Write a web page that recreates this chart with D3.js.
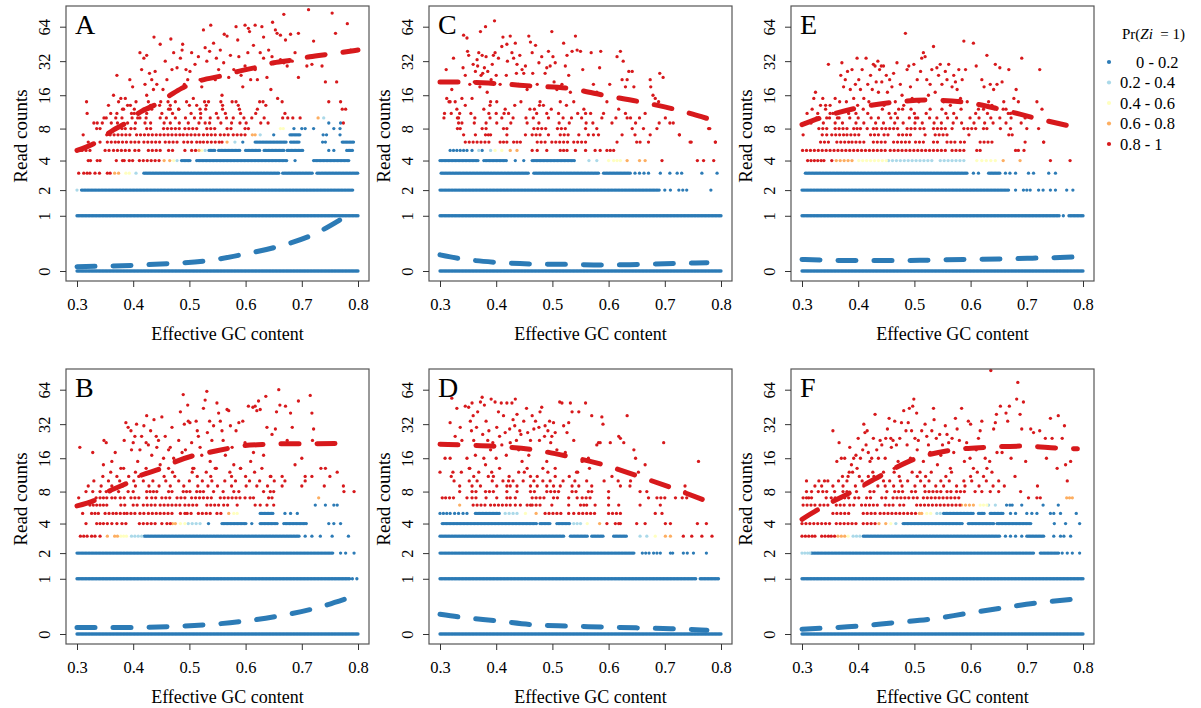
<!DOCTYPE html>
<html><head><meta charset="utf-8">
<script src="https://cdn.jsdelivr.net/npm/d3@7"></script>
<style>
body{margin:0;background:#fff;}
svg{display:block;font-family:"Liberation Serif","Times New Roman",serif;}
</style></head><body>
<svg id="chart" width="1201" height="708"></svg>
<script>
// ---------------- data ----------------
const panelNames = ["A","B","C","D","E","F"];
const countTicks = [0,1,2,4,8,16,32,64];
const gcTicks = [0.3,0.4,0.5,0.6,0.7,0.8];
const probClasses = ["0 - 0.2","0.2 - 0.4","0.4 - 0.6","0.6 - 0.8","0.8 - 1"];
const classKeys = ["b","l","y","o","r"];

// rows: "count: class x x a-b (dense run) a~b (spaced run)"; x in thousandths of GC content
const rowsA = [
"0: b 300-800","1: b 300-800","2: l 300 b 308-792",
"3: r 303 312 318 323 332 340 354 359 o 367 374 y 387 393 l 405 b 419-660 666-720 727-800",
"4: r 320 324 336 341 370 381 384 393 399 411~448 o 455 465 y 472 l 478 b 486-501 513-675 688 721-785",
"5: r 300 305 309 316 323 350~359 365~394 403~412 427~448 463~475 492 504~513 o 517 y 522 l 528 b 535-545 552-590 600-627 633-668 674-703 748 757 780-790",
"6: r 320 341 354~368 374~388 396~414 419~448 457~484 490~507 513 519 525~549 553 558 o 567 l 581 b 595 617-674 680-697 737 742 772-793",
"7: r 311 353 359~397 406~442 448~484 489~519 525~549 555~573 578~602 o 612 617 l 626 b 650 679-697 738 744 768",
"8: r 335 341 380 386 396~406 424~436 454~484 492~519 531~549 567~579 599 605 y 662 667 b 686 700 706 721 757 768",
"9: r 345 361 372 390 404 421 431 455 466 482 498 517 528 536 556 575 590 601 627 640 774 b 748 769",
"10: r 352 369 380 398 412 423 448 459 475 493 509 520 537 551 566 578 597 611 633 666 o 729 l 739",
"11: r 371 402 424 451 470 503 520 548 564 591 618 670",
"12: r 383 418 433 466 481 519 529 559 589 621",
"13: r 395 431 466 500 530 559 587 636",
"14: r 427 462 495 527 556 583 631"
];
const rowsB = [
"0: b 300-800","1: b 300-785 790 798","2: b 300-757 769 778 793",
"3: r 306 312 318 326 332 341 o 354 367 372 y 378 383 388 l 397 403 409 415 b 420-697 706 718 733 754 783",
"4: r 316 335 341 347 354 362 371 380 387 411~442 451 460 466 o 470 475 y 484 492 l 498 505 512 519 b 534 558-602 611 626-656 668-709 748 757 769",
"5: r 310 326 332 338 350~365 370~386 389~406 412~424 427~475 484 492 496~508 516~543 549~561 o 570 y 579 585 b 626-650 670 680 692",
"6: r 308 323 329 335 341 347 353 378~389 400~412 418~442 448~484 492~519 531~555 561~573 585 617 626 638 650 b 724 742 757 763",
"7: r 303 334 341 347 353 362 368 377~387 396~412 424 433~445 451~469 478~495 504~543 555~590 599 608 614 641 647 o 730",
"8: r 316 328 341 352 359 374 391 400 424 430 436 442 463 469 489 495 501 513 519 525 543 560 579 588 632 644 650 775",
"9: r 320 343 362 381 404 428 446 466 490 515 533 550 575 601 620 639 665 700 740",
"10: r 330 356 376 401 418 435 458 481 500 523 540 563 582 607 625 651 670 706",
"11: r 346 392 410 455 474 514 538 575 600 645 718",
"12: r 360 404 429 470 505 530 572 616",
"13: r 378 423 463 506 548 591"
];
const rowsC = [
"0: b 300-800","1: b 300-800","2: b 300-690 700 710 725 732 739 782",
"3: b 302-458 467-582 591-639 647 655 663 671 692 709 722 730 766 793",
"4: b 300-369 378-419 434 449 464-541 l 565 579 y 600 609 615 621 o 633 655 665 r 695 758 769 787",
"5: b 318 324 330 336 342 348 357 l 369 b 375 l 390 y 398 410 o 425 437 r 464 473 490 514 520 526 541 559 576 585 597 603 609",
"6: r 345~392 407 413 419 431 437 443 473~490 499~529 538~562 615 650 656 671 747 790",
"7: r 342 363 381 386 390 419 452 464~484 493 514~532 547 564 573 582 624 647 674 726",
"8: r 331 336 375 382 413 419 467~490 509~526 559 579 642 662 686 778",
"9: r 333 339 361 382 401 426 455 476 512 530 560 572 606 648 690",
"10: r 307 333 362 389 410 430 453 466 493 519 534 552 588 613 633 655",
"11: r 320 355 400 422 472 490 545 568 630",
"12: r 330 378 416 460 498 556",
"13: r 345 389 433 477 525"
];
const rowsD = [
"0: b 300-800","1: b 300-757 763-796","2: b 300-645 660 666 672 680 686 692 710 714 733 740 751 774",
"3: b 300-520 532-562 570-591 609-633 l 656 668 y 683 o 701 710 r 733 748 766 784",
"4: b 304-473 478-496 508-532 l 538 544 550 y 562 o 584 r 597 612 618 621 650 665 701 710 758 774",
"5: b 300 306 312 318 326 333 341 348 363-407 l 416~443 y 452 o 471 r 487~520 529 538 547~579 600~624 683 695",
"6: o 335 r 359~381 390~425 434 443 455 461 464~481 499 529 550 556 561 576 600 618 656 692",
"7: r 304 310 317 324 348 357~369 382 401 419 425 434 464~490 502~513 529 544 553~573 600 671 686~704 719 731 739",
"8: r 335 357~369 381~401 419 437 461~473 490~514 535~547 564 570 600 656 668 736",
"9: r 335 357 372 401 419 425 437 461 473 490 502 514 535 547 570 621 638",
"10: r 325 352 366 393 412 430 448 467 483 496 519 540 561 592 617",
"11: r 320 360 386 423 461 505 530 606",
"12: r 338 392 440 492 545",
"13: r 352 406 455 505 566"
];
const rowsE = [
"0: b 300-800","1: b 300-758 765 775-800","2: b 300-669 680 694 700 706 721 729 742 751 771 782",
"3: b 306-594 605 614 632-653 662 670 680 703 712 739 751",
"4: r 310 316 322 328 334 339 353 o 361~395 y 401~451 l 454~534 546~588 y 611 620 628 636 644 o 658 688 r 742 777",
"5: r 301~451 457~555 567~588 611 617 680 685 695",
"6: r 333~353 362~386 389~416 427~451 463~493 502~516 534~546 558~573 582~594 617~641 697 730",
"7: r 302 336 344 353~374 380~404 422~439 446~457 472~493 519 537~558 597 668 674",
"8: r 330~344 359~380 392 398 404 416 427 433 442~457 463~475 487~505 510~522 534~558 567 588~611 623 629 653 671 721",
"9: r 316 338 359 372 396 410 431 445 465 480 501 514 535 548 569 584 606 625 640 663 690",
"10: r 326 349 366 385 400 423 436 458 470 491 506 527 540 559 575 599 615 636 652 672",
"11: r 350 396 417 455 466 500 521 556 570 609 630 667",
"12: r 342 388 409 443 479 494 528 549 583 623 658"
];
const rowsF = [
"0: b 300-800","1: b 300-800","2: l 300 305 310 314 b 317-712 724-757 763 772 781 794",
"3: r 300 306 312 318 323 335 341 347 352 358 o 364 370 376 y 382 l 391 397 403 b 409-653 662 671 680 691 700-730 748 760 766 778",
"4: r 300~349 361~397 409~433 o 437 449 y 458 l 467 b 480-587 596-641 647-709 749 769 794",
"5: r 355~385 409~436 439~504 o 509 513 y 522 529 l 540 546 b 552-605 614-626 635-659 671 680 700 709 718 742 748 760 788",
"6: r 302~326 332~346 361~379 385~394 406~421 427~436 448~462 474~486 504~581 o 584~605 y 617 623 629 l 632 644 b 664 670 674 691 729 756",
"7: r 302 308 312 317 343 352~367 376~385 394~403 415~427 442~451 462~492 498~510 516~552 558~581 703 718 724 o 771 776 781",
"8: r 308 317 329 337~346 358 373~385 397 421~430 451 465~480 495~507 519~549 558~567 575~593 608 620 635 650 689",
"9: r 335 355 373 395 410 435 448 463 478 501 518 538 552 575 590 615 640 660",
"10: r 340 365 380 407 425 445 456 475 488 511 526 547 562 588 602 628 650",
"11: r 372 418 439 473 505 520 556 600",
"12: r 384 426 464 496 530 566 612"
];

// scattered high counts (Pr > 0.8): "gc(thousandths):count"
const scatterA = "317:14 318:11 330:9 336:9 348:10 356:13 360:11 365:16 371:24 374:14 378:15 381:12 386:15 390:13 394:22 399:19 402:12 405:14 397:11 408:10 412:38 415:27 419:34 424:36 421:20 424:16 429:25 433:22 436:18 439:26 442:20 447:13 449:14 427:12 437:52 448:45 453:18 457:32 460:22 463:12 467:50 469:27 472:38 475:14 478:28 481:12 484:34 487:40 488:45 491:20 494:27 497:22 501:26 504:38 507:15 510:30 513:13 516:35 519:22 522:19 525:60 528:42 531:32 534:14 536:39 538:66 543:46 546:22 548:34 552:27 555:40 558:16 561:31 562:55 567:53 570:23 573:36 576:14 579:27 583:64 586:49 588:35 592:24 595:19 599:66 599:29 604:38 605:62 607:58 609:22 614:44 617:66 617:27 621:22 625:14 626:38 629:64 632:52 632:34 638:23 641:40 645:18 647:35 648:70 653:60 653:31 656:56 657:15 662:54 662:33 665:14 668:82 668:31 671:49 674:29 675:10 680:55 683:32 684:10 688:38 694:56 694:23 697:10 709:29 712:90 718:30 721:48 736:29 742:21 748:14 754:84 760:56 762:21 769:14 772:12 781:68 778:12 787:40";
const scatterB = "305:20 328:18 348:23 352:22 347:14 362:15 368:18 371:11 383:13 384:23 387:33 391:30 396:28 397:19 400:22 403:25 406:32 408:15 412:19 415:25 419:31 423:22 424:38 427:21 431:28 433:17 437:35 441:25 442:20 445:23 448:14 451:37 454:16 457:25 463:19 466:20 469:30 472:16 476:15 481:23 484:41 487:18 489:58 491:32 493:19 497:47 498:34 501:33 504:22 508:13 512:34 514:28 516:25 519:20 522:17 525:44 528:52 531:62 532:27 536:34 537:15 540:23 543:31 546:13 549:49 552:40 555:34 558:28 560:23 564:17 567:43 570:42 573:31 576:20 579:14 583:28 588:33 591:13 595:34 599:22 605:46 609:15 613:45 614:18 617:46 620:42 623:51 626:43 629:13 632:17 636:56 638:30 644:11 647:26 653:29 655:41 659:64 661:47 665:11 671:46 674:23 680:40 683:30 688:14 694:51 700:16 706:11 715:57 718:40 719:23 721:29 734:13 742:13 750:11 763:12 774:9 793:8";
const scatterC = "308:11 312:15 316:14 311:27 318:14 321:18 324:34 327:14 329:21 331:10 335:11 339:15 341:28 342:54 345:24 348:51 349:39 351:36 353:20 357:15 359:30 361:21 363:26 366:33 367:29 369:38 371:19 372:58 373:24 375:36 376:25 379:28 381:64 382:35 384:17 385:26 387:11 390:14 391:22 393:30 395:36 397:72 398:38 400:24 401:14 404:34 407:20 410:43 412:52 414:11 418:24 419:45 420:32 425:53 428:38 431:34 434:46 436:25 437:30 440:20 442:36 444:14 446:27 449:25 452:29 455:18 458:53 461:47 464:38 465:25 468:12 470:44 473:20 476:31 478:14 481:35 484:13 487:25 490:28 493:39 496:29 499:58 501:35 503:21 505:31 508:18 511:11 514:14 517:20 520:46 523:29 526:36 529:24 532:17 535:39 538:14 541:53 544:40 550:39 554:27 559:11 564:17 569:38 573:20 579:17 584:28 586:39 591:11 597:14 602:20 615:35 618:12 621:39 624:22 626:32 630:19 633:22 636:26 639:10 642:26 645:19 665:11 674:22 675:19 679:16 683:15 689:14 691:25 697:23 701:10 709:9 715:9 726:7 745:6 780:8 790:6";
const scatterD = "300:12 309:16 318:16 318:33 321:54 323:12 327:25 330:44 336:30 339:23 345:46 348:16 351:45 353:13 354:34 356:28 357:49 359:38 360:23 363:17 365:30 367:41 369:12 372:50 375:55 376:26 378:16 379:47 381:14 382:34 385:23 387:28 390:19 391:53 394:22 395:11 398:50 400:16 401:30 404:41 406:25 409:49 410:21 413:38 416:27 418:17 419:49 422:10 424:29 425:22 428:49 430:35 433:31 434:53 436:23 437:39 440:19 442:28 444:26 446:15 449:34 450:12 454:44 456:27 458:17 461:23 464:38 467:29 470:34 473:11 476:30 477:23 478:41 481:45 483:13 486:25 487:31 490:15 492:28 495:34 497:22 499:25 502:33 505:27 508:19 513:50 517:49 520:31 523:18 526:27 529:33 532:49 535:41 538:23 543:12 547:41 553:15 559:49 564:16 570:38 579:21 582:22 585:22 588:37 590:32 603:22 618:25 621:24 627:22 633:38 639:10 645:19 648:16 653:12 665:14 698:22 736:9 760:15";
const scatterE = "309:11 318:12 321:15 324:17 328:11 333:13 337:15 342:13 344:10 347:30 350:13 355:11 359:15 363:10 367:14 369:24 371:31 374:19 377:22 379:14 381:26 383:11 386:18 389:27 392:15 395:20 398:34 399:13 401:22 404:18 407:27 410:15 414:34 417:20 419:14 422:24 425:18 427:30 430:29 432:21 435:32 436:17 438:27 441:29 442:21 445:29 446:13 450:24 452:17 456:22 460:19 463:25 466:14 469:31 472:12 475:20 478:16 481:13 484:56 487:27 490:29 493:19 496:15 499:30 502:10 505:22 508:14 511:26 513:34 516:38 519:35 522:22 525:16 528:20 531:27 534:43 537:17 540:28 543:24 546:30 549:20 552:14 555:26 558:22 561:30 564:13 567:19 570:24 573:21 576:18 579:27 582:15 585:22 588:48 591:27 594:14 605:46 610:29 614:12 620:22 624:19 629:36 632:14 635:20 638:13 641:18 644:30 647:20 652:28 656:21 659:14 663:12 668:27 671:11 677:15 681:18 685:14 691:34 697:10 700:8 718:14 723:27 727:12 730:6";
const scatterF = "308:10 323:9 330:10 346:10 355:28 362:15 366:22 370:16 376:16 382:11 385:20 388:14 390:12 392:16 396:17 398:13 400:24 402:11 404:16 408:19 410:32 412:27 414:21 416:28 418:18 421:15 424:16 427:24 428:11 430:39 433:19 436:16 439:23 442:21 445:12 448:16 449:24 452:29 455:36 458:24 459:20 462:23 464:13 465:34 468:21 471:15 474:24 477:33 481:42 485:28 487:21 489:33 491:44 493:16 495:28 497:46 499:53 501:24 504:40 505:19 507:23 510:12 513:28 516:15 519:32 522:25 525:21 528:18 531:28 534:44 535:35 539:24 541:14 545:26 547:17 550:21 555:31 558:26 561:22 564:13 567:24 570:18 573:36 576:29 580:23 584:44 589:15 593:22 596:34 599:16 600:32 605:13 610:19 614:24 617:28 620:34 623:11 626:16 629:13 634:15 636:94 638:12 641:29 644:33 646:39 647:18 653:46 656:18 663:40 666:34 669:46 672:16 679:11 682:53 684:74 688:39 691:29 694:50 698:15 707:29 712:27 719:9 723:28 733:24 735:16 742:36 745:24 754:13 756:38 763:24 767:31 769:14 772:10 778:15";

// fitted mean curves [GC, count]
const redFitA = [[0.30,5],[0.335,6],[0.365,7.8],[0.387,9],[0.409,11],[0.442,13.4],[0.466,16],[0.486,18.4],[0.512,21],[0.561,24],[0.587,26],[0.623,28.5],[0.650,31],[0.688,33],[0.714,35],[0.751,37],[0.80,40]];
const blueFitA = [[0.30,0.045],[0.40,0.06],[0.464,0.08],[0.528,0.11],[0.592,0.19],[0.656,0.31],[0.718,0.52],[0.775,0.95]];
const redFitB = [[0.30,5.9],[0.337,6.9],[0.35,7.7],[0.39,9.6],[0.41,11],[0.45,13],[0.47,14.5],[0.51,17],[0.53,17.8],[0.57,19.6],[0.59,20.5],[0.63,21.2],[0.66,21.5],[0.70,21.5],[0.783,21.7]];
const blueFitB = [[0.30,0.07],[0.40,0.07],[0.466,0.08],[0.528,0.10],[0.592,0.14],[0.656,0.21],[0.718,0.32],[0.782,0.52]];
const redFitC = [[0.30,21],[0.335,21],[0.40,20.3],[0.465,19.3],[0.529,18.4],[0.591,16],[0.655,14],[0.717,12],[0.781,9.7]];
const blueFitC = [[0.30,0.19],[0.335,0.14],[0.40,0.094],[0.465,0.075],[0.529,0.07],[0.591,0.063],[0.655,0.07],[0.717,0.08],[0.775,0.09]];
const redFitD = [[0.30,21.3],[0.335,21],[0.40,20.4],[0.467,19],[0.526,16.7],[0.588,14.1],[0.649,11.2],[0.711,8.7],[0.772,6.6]];
const blueFitD = [[0.30,0.24],[0.335,0.2],[0.40,0.15],[0.467,0.10],[0.526,0.085],[0.588,0.075],[0.649,0.065],[0.711,0.055],[0.775,0.04]];
const redFitE = [[0.30,8.7],[0.333,10],[0.398,12.3],[0.46,13.8],[0.523,14.5],[0.588,13.9],[0.652,12],[0.714,10],[0.778,8.4]];
const blueFitE = [[0.30,0.13],[0.40,0.115],[0.46,0.115],[0.52,0.12],[0.59,0.13],[0.65,0.135],[0.71,0.145],[0.785,0.16]];
const redFitF = [[0.30,4.4],[0.33,5.5],[0.385,7.8],[0.445,11.5],[0.50,15.7],[0.563,18.8],[0.628,20],[0.694,20.5],[0.756,19.7],[0.79,19.4]];
const blueFitF = [[0.30,0.05],[0.334,0.06],[0.40,0.085],[0.462,0.125],[0.528,0.17],[0.592,0.25],[0.657,0.34],[0.72,0.43],[0.783,0.50]];

// ---------------- build ----------------
const panelData = {
  A:{rows:rowsA, scatter:scatterA, red:redFitA, blue:blueFitA, col:0, row:0},
  B:{rows:rowsB, scatter:scatterB, red:redFitB, blue:blueFitB, col:0, row:1},
  C:{rows:rowsC, scatter:scatterC, red:redFitC, blue:blueFitC, col:1, row:0},
  D:{rows:rowsD, scatter:scatterD, red:redFitD, blue:blueFitD, col:1, row:1},
  E:{rows:rowsE, scatter:scatterE, red:redFitE, blue:blueFitE, col:2, row:0},
  F:{rows:rowsF, scatter:scatterF, red:redFitF, blue:blueFitF, col:2, row:1}
};
const colors = {b:"#2c7bb6", l:"#abd9e9", y:"#ffffbf", o:"#fdae61", r:"#d7191c"};
const colX = [66, 429, 791], rowY = [6, 369];
const BW = 303, BH = 275;
const FONT = "'Liberation Serif','Times New Roman',serif";

function parseRows(rows){
  const pts = [];
  rows.forEach(r => {
    const i = r.indexOf(":");
    const c = +r.slice(0,i);
    let cls = "b";
    r.slice(i+1).trim().split(/\s+/).forEach(tok => {
      if (/^[blyor]$/.test(tok)) { cls = tok; return; }
      let m;
      if ((m = tok.match(/^(\d+)-(\d+)$/))) {
        for (let v=+m[1]; v<=+m[2]+0.01; v+=2.5) pts.push({gc:v/1000, c, cls});
      } else if ((m = tok.match(/^(\d+)~(\d+)$/))) {
        for (let v=+m[1]; v<=+m[2]+0.01; v+=7) pts.push({gc:v/1000, c, cls});
      } else pts.push({gc:+tok/1000, c, cls});
    });
  });
  return pts;
}
function parseScatter(s){
  return s.trim().split(/\s+/).map(t => { const [a,b]=t.split(":"); return {gc:+a/1000, c:+b, cls:"r"}; });
}

const svg = d3.select("#chart");
svg.append("rect").attr("width",1201).attr("height",708).attr("fill","#fff");

panelNames.forEach(name => {
  const P = panelData[name];
  const bx = colX[P.col], by = rowY[P.row];
  const x = d3.scaleLinear().domain([0.3,0.8]).range([bx+11, bx+292]);
  const y = d3.scaleLog().domain([0.5,64.5]).range([by+265, by+20.7]);
  const g = svg.append("g");

  const pts = parseRows(P.rows).concat(parseScatter(P.scatter));
  const order = {b:0,l:1,y:2,o:3,r:4};
  pts.sort((a,b)=>order[a.cls]-order[b.cls]);
  g.append("g").selectAll("circle").data(pts).join("circle")
    .attr("cx", d=>x(d.gc)).attr("cy", d=>y(d.c+0.5)).attr("r",1.65)
    .attr("fill", d=>colors[d.cls]);

  const line = d3.line().x(d=>x(d[0])).y(d=>y(d[1]+0.5)).curve(d3.curveMonotoneX);
  [["blue",P.blue,colors.b],["red",P.red,colors.r]].forEach(([k,data,col])=>{
    g.append("path").attr("d", line(data)).attr("fill","none")
      .attr("stroke", col).attr("stroke-width",5)
      .attr("stroke-dasharray","18 18").attr("stroke-linecap","round");
  });

  // box
  g.append("rect").attr("x",bx).attr("y",by).attr("width",BW).attr("height",BH)
    .attr("fill","none").attr("stroke","#555").attr("stroke-width",1.2);

  // y axis
  const ya = g.append("g").attr("transform",`translate(${bx},0)`)
    .call(d3.axisLeft(y).tickValues(countTicks.map(c=>c+0.5)).tickFormat(v=>String(Math.round(v-0.5))).tickSize(6));
  ya.attr("font-family",FONT);
  ya.select(".domain").remove();
  ya.selectAll(".tick line").attr("stroke","#333");
  ya.selectAll(".tick text").attr("x",0).attr("y",0).attr("dy",0)
    .attr("transform","translate(-16,0) rotate(-90)").attr("text-anchor","middle")
    .attr("font-size",16.5).attr("font-family",FONT).attr("fill","#000");

  // x axis
  const xa = g.append("g").attr("transform",`translate(0,${by+BH})`)
    .call(d3.axisBottom(x).tickValues(gcTicks).tickFormat(d3.format(".1f")).tickSize(6));
  xa.attr("font-family",FONT);
  xa.select(".domain").remove();
  xa.selectAll(".tick line").attr("stroke","#333");
  xa.selectAll(".tick text").attr("y",29).attr("dy",0)
    .attr("font-size",16.5).attr("font-family",FONT).attr("fill","#000");

  // titles
  g.append("text").attr("x", bx+BW/2+10).attr("y", by+BH+59).attr("text-anchor","middle")
    .attr("font-family",FONT).attr("font-size",18).text("Effective GC content");
  g.append("text").attr("transform",`translate(${bx-39.5},${by+130}) rotate(-90)`).attr("text-anchor","middle")
    .attr("font-family",FONT).attr("font-size",19).text("Read counts");
  g.append("text").attr("x", bx+9).attr("y", by+28).attr("font-family",FONT).attr("font-size",28).text(name);
});

// legend
const lg = svg.append("g").attr("font-family",FONT);
const title = lg.append("text").attr("x",1122).attr("y",38.5).attr("font-size",15).attr("xml:space","preserve");
title.append("tspan").text("Pr(");
title.append("tspan").attr("font-style","italic").text("Zi");
title.append("tspan").text("  = 1)");
probClasses.forEach((lab,i)=>{
  const yy = 62 + i*20.5;
  lg.append("circle").attr("cx",1109).attr("cy",yy).attr("r",2.1).attr("fill",colors[classKeys[i]]);
  lg.append("text").attr("x", lab.startsWith("0 -") ? 1136 : 1120).attr("y",yy+5.5)
    .attr("font-size",16.5).text(lab);
});
</script>
</body></html>
